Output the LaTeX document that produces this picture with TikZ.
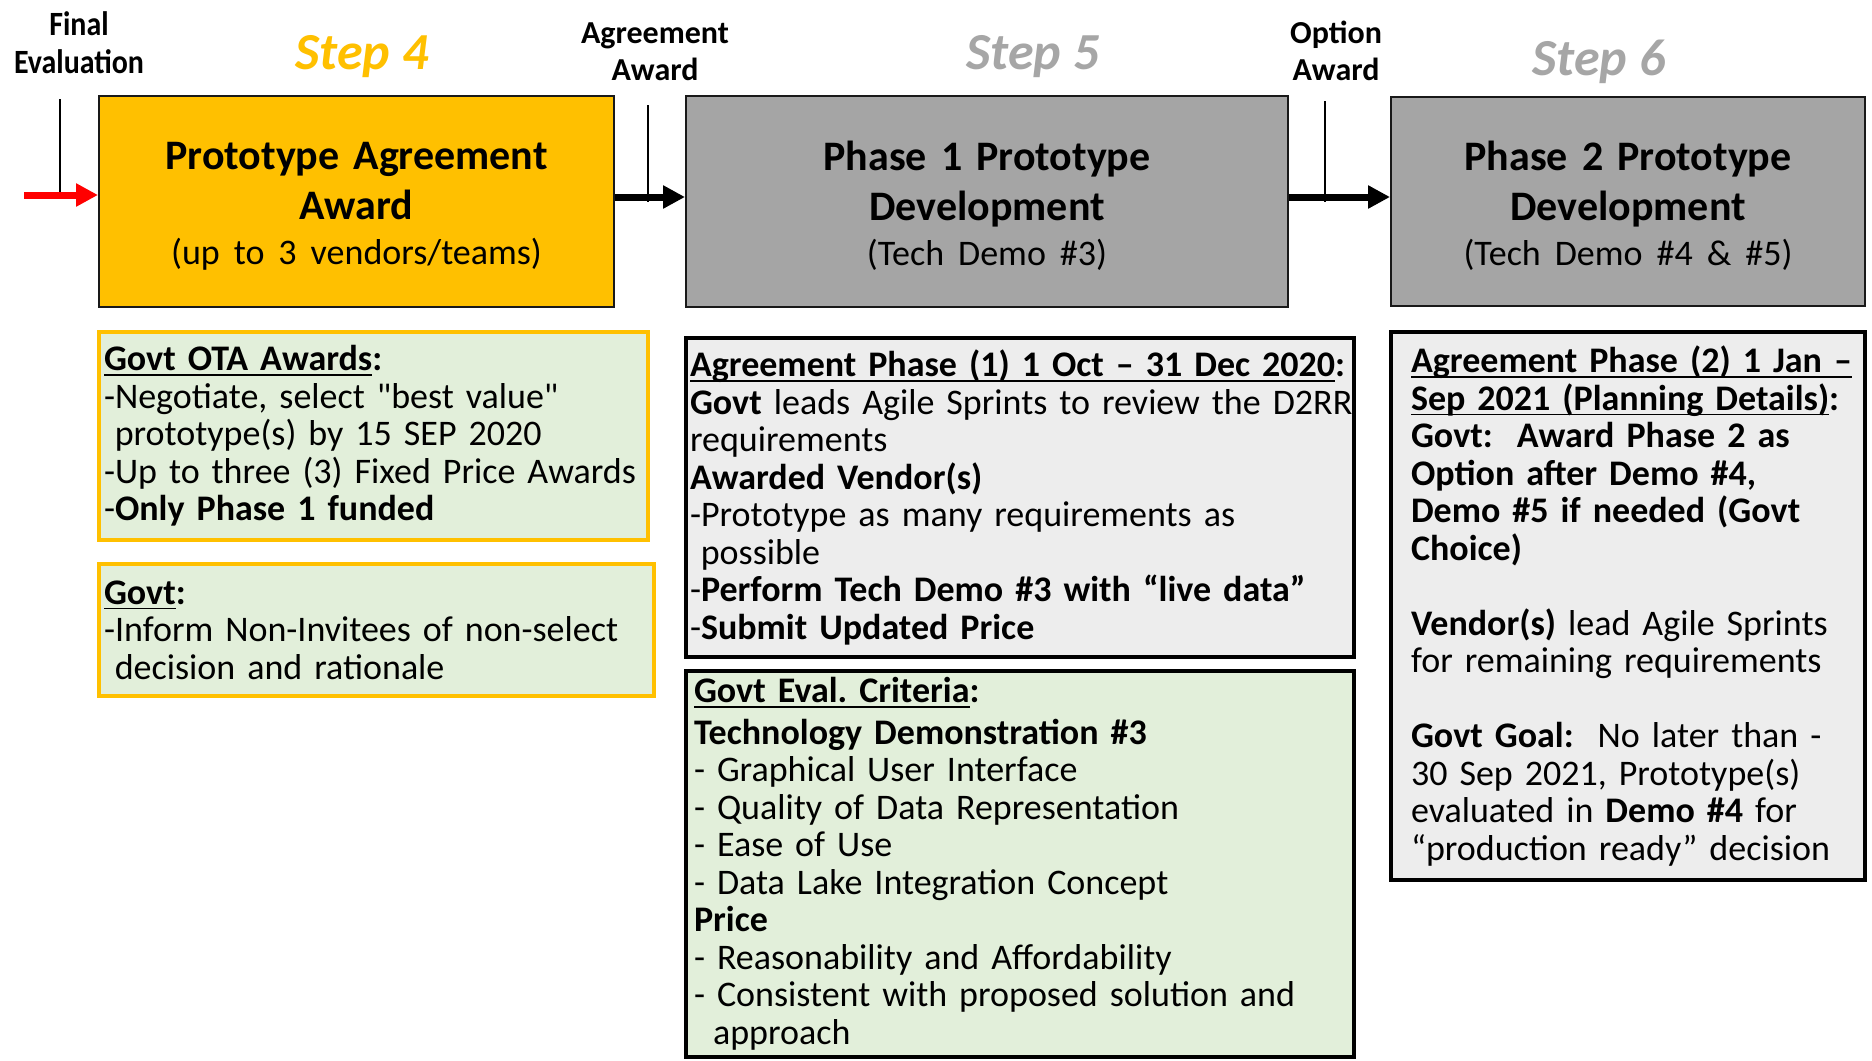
\documentclass[tikz,border=0pt]{standalone}
\usepackage{fontspec}
\setmainfont{Carlito}
\newfontfamily\qf{Carlito}
\newfontfamily\narrowfont[FakeStretch=0.88]{Carlito}
\usetikzlibrary{arrows.meta}
\definecolor{gold}{HTML}{FFC000}
\definecolor{boxgray}{HTML}{A5A5A5}
\definecolor{stepgray}{HTML}{A6A6A6}
\definecolor{lgreen}{HTML}{E2EFDA}
\definecolor{lgray}{HTML}{EDEDED}
\definecolor{arrred}{HTML}{FF0000}
\newcommand\ulx[1]{\mbox{\sbox0{#1}\rlap{\rule[-2.6pt]{\wd0}{0.9pt}}\usebox0}}
\newcommand\topstrut{\rule{0pt}{18.5pt}}
\begin{document}
\frenchspacing
\begin{tikzpicture}[x=0.5pt,y=-0.5pt,
  hdr/.style={draw=black!90, line width=1pt, align=center, inner sep=0pt,
    font=\bfseries\fontsize{21}{25}\selectfont},
  detail/.style={line width=1.8pt, align=left, inner ysep=0pt,
    font=\fontsize{18}{18.75}\selectfont},
  flow/.style={line width=3.5pt, -{Triangle[length=11pt,width=11pt]}},
  tick/.style={line width=1.3pt},
  steplbl/.style={font=\bfseries\itshape\fontsize{26}{30}\selectfont, anchor=base, inner sep=0pt},
  milestone/.style={font=\bfseries\fontsize{16}{18.5}\selectfont, align=center, anchor=base, inner sep=0pt}
]
\path[use as bounding box, fill=white] (0,0) rectangle (1872,1060);

% header boxes
\node[hdr, fill=gold, minimum width=257.5pt, minimum height=105.5pt, text width=250pt] (b1) at (356.5,201.5)
  {\topstrut Prototype Agreement\\Award\\[-2.5pt]{\mdseries\fontsize{18}{22.5}\selectfont (up to 3 vendors/teams)}};
\node[hdr, fill=boxgray, minimum width=301pt, minimum height=105.5pt, text width=290pt] (b2) at (987,201.5)
  {\topstrut Phase 1 Prototype\\Development\\[-2.5pt]{\mdseries\fontsize{18}{22.5}\selectfont (Tech Demo \#3)}};
\node[hdr, fill=boxgray, minimum width=237pt, minimum height=104.5pt, text width=230pt] (b3) at (1628,201.5)
  {\topstrut Phase 2 Prototype\\Development\\[-2.5pt]{\mdseries\fontsize{18}{22.5}\selectfont (Tech Demo \#4 \& \#5)}};

% step labels
\node[steplbl, text=gold] (s4) at (362,69) {Step 4};
\node[steplbl, text=stepgray] (s5) at (1033,69) {Step 5};
\node[steplbl, text=stepgray] (s6) at (1599,75) {Step 6};

% milestone labels (base = last line)
\node[milestone, font=\narrowfont\bfseries\fontsize{17}{19}\selectfont] (fe) at (79,73) {Final\\Evaluation};
\node[milestone] (aa) at (655,80) {Agreement\\Award};
\node[milestone] (oa) at (1336,80) {Option\\Award};

% ticks
\coordinate (redst) at (24,195);
\coordinate (fe1) at (60,99);
\coordinate (aa1) at (648,105);
\coordinate (oa1) at (1325,101);
\draw[tick] (fe1) -- (fe1 |- redst);
\draw[tick] (aa1) -- (aa1 |- b1.east);
\draw[tick] (oa1) -- (oa1 |- b2.east);

% flow arrows
\draw[flow, arrred] (redst) -- ([yshift=3.25pt]b1.west);
\draw[flow] ([yshift=2.25pt]b1.east) -- ([yshift=2.25pt]b2.west);
\draw[flow] ([yshift=2.25pt]b2.east) -- ([yshift=2.25pt]b3.west);

% detail boxes
\node[detail, draw=gold, fill=lgreen, minimum width=274.5pt, minimum height=104pt, text width=269.5pt, inner xsep=2.5pt] (ota) at (373.5,436)
{\textbf{\ulx{Govt OTA Awards}:}\\
-Negotiate, select {\qf"}best value{\qf"}\\
\hspace*{0.3em}prototype(s) by 15 SEP 2020\\
-Up to three (3) Fixed Price Awards\\
-\textbf{Only Phase 1 funded}};

\node[detail, draw=gold, fill=lgreen, minimum width=277.5pt, minimum height=66pt, text width=272.5pt, inner xsep=2.5pt] (gv) at (376.5,630)
{\textbf{\ulx{Govt}:}\\
-Inform Non-Invitees of non-select\\
\hspace*{0.3em}decision and rationale};

\node[detail, draw=black, fill=lgray, minimum width=334pt, minimum height=159.5pt, text width=330pt, inner xsep=2pt] (ap1) at (1020,497.5)
{\textbf{\ulx{Agreement Phase (1) 1 Oct – 31 Dec 2020}:}\\
\mbox{\textbf{Govt} leads Agile Sprints to review the D2RR}\\
requirements\\
\textbf{Awarded Vendor(s)}\\
-Prototype as many requirements as\\
\hspace*{0.3em}possible\\
-\textbf{Perform Tech Demo \#3 with “live data”}\\
-\textbf{Submit Updated Price}};

\node[detail, draw=black, fill=lgreen, minimum width=334pt, minimum height=193pt, text width=326pt, inner xsep=4pt] (ev) at (1020,864)
{\textbf{\ulx{Govt Eval. Criteria}:}\\[2pt]
\textbf{Technology Demonstration \#3}\\
- Graphical User Interface\\
- Quality of Data Representation\\
- Ease of Use\\
- Data Lake Integration Concept\\
\textbf{Price}\\
- Reasonability and Affordability\\
- Consistent with proposed solution and\\
\hspace*{0.53em}approach};

\node[detail, draw=black, fill=lgray, minimum width=237pt, minimum height=274pt, text width=217pt, inner xsep=10pt] (ap2) at (1628,606)
{\textbf{\ulx{Agreement Phase (2) 1 Jan –}}\\
\textbf{\ulx{Sep 2021 (Planning Details)}:}\\
\textbf{Govt:~ Award Phase 2 as}\\
\textbf{Option after Demo \#4,}\\
\textbf{Demo \#5 if needed (Govt}\\
\textbf{Choice)}\\[18.75pt]
\textbf{Vendor(s)} lead Agile Sprints\\
for remaining requirements\\[18.75pt]
\textbf{Govt Goal:}~ No later than -\\
30 Sep 2021, Prototype(s)\\
evaluated in \textbf{Demo \#4} for\\
“production ready” decision};
\end{tikzpicture}
\end{document}
